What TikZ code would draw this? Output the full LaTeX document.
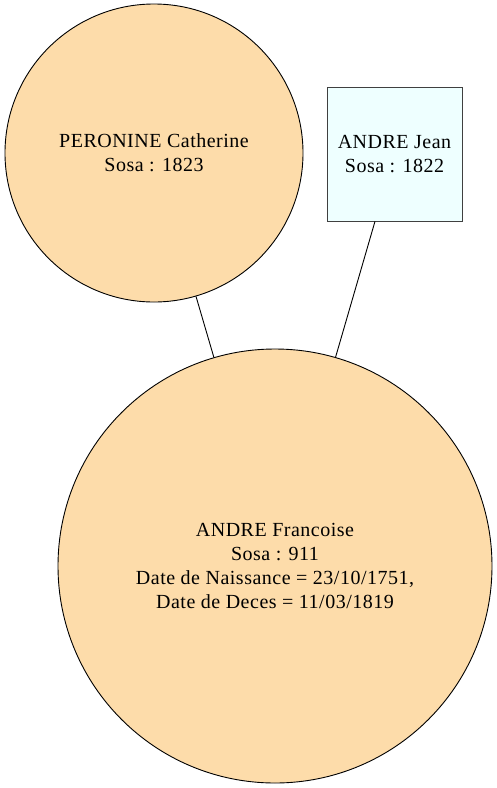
\documentclass[tikz,border=0pt]{standalone}
\usepackage{fontspec}
\newfontfamily\graphfont{Liberation Serif}[LetterSpace=2.5]
\usetikzlibrary{positioning}
\definecolor{personfill}{HTML}{FDDCAA}
\definecolor{boxfill}{HTML}{EEFFFF}
\begin{document}
\begin{tikzpicture}[x=1pt, y=-1pt, line width=0.9pt,
    person/.style = {draw, circle, fill=personfill, inner sep=0pt, align=center,
                     font=\graphfont\fontsize{20}{23.7}\selectfont},
    man/.style = {draw=black!75, rectangle, fill=boxfill, inner sep=0pt, align=center,
                  minimum width=135pt, minimum height=134pt,
                  font=\graphfont\fontsize{20}{23.7}\selectfont}]
    \useasboundingbox (0,0) rectangle (496,788);
    \node[person, minimum size=298pt] (peronine) at (154,153) {PERONINE Catherine\\Sosa : 1823};
    \node[man] (jean) at (394.5,154) {ANDRE Jean\\Sosa : 1822};
    \node[person, minimum size=434pt] (francoise) at (275,566)
        {ANDRE Francoise\\Sosa : 911\\Date de Naissance = 23/10/1751,\\Date de Deces = 11/03/1819};
    \draw (peronine) -- (francoise);
    \draw (jean) -- (francoise);
\end{tikzpicture}
\end{document}
